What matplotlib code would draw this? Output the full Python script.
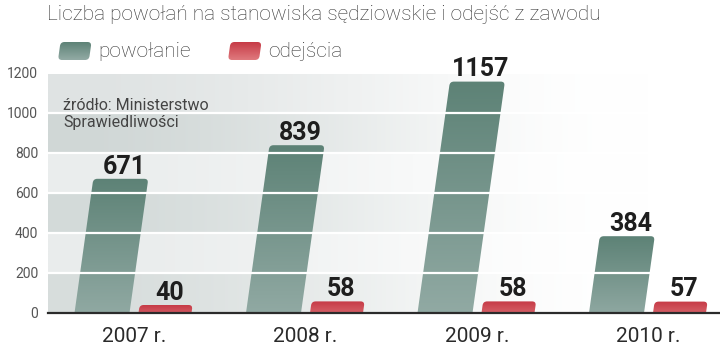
import numpy as np
import matplotlib
matplotlib.use("Agg")
import matplotlib.pyplot as plt
import matplotlib.transforms as mtransforms
from matplotlib.patches import FancyBboxPatch
from matplotlib.colors import LinearSegmentedColormap, to_rgb

# ---- data ----
years = ["2007 r.", "2008 r.", "2009 r.", "2010 r."]
appointments = [671, 839, 1157, 384]
departures = [40, 58, 58, 57]
series_names = ["powołanie", "odejścia"]
y_ticks = [0, 200, 400, 600, 800, 1000, 1200]
title = "Liczba powołań na stanowiska sędziowskie i odejść z zawodu"
source_lines = ["źródło: Ministerstwo", "Sprawiedliwości"]

# ---- style ----
W, H, DPI = 720, 347, 100
GREEN = ("#93aba5", "#5d8276")   # bottom, top
RED = ("#e07a7e", "#c63a46")
BAND_COLORS = ["#d7dddc", "#e9ecec", "#d3dad9", "#eaeded", "#d0d7d6", "#dfe3e3"]
TEXT_FONT = ["Roboto", "DejaVu Sans"]
NUM_FONT = ["Roboto", "DejaVu Sans"]

fig = plt.figure(figsize=(W / DPI, H / DPI), dpi=DPI)
fig.patch.set_facecolor("white")

# main axes: left at 48 px, baseline at 313 px, 1200 at 73 px
ax_left, ax_base, ax_top = 48, 313, 73
ax = fig.add_axes([ax_left / W, 1 - ax_base / H, 1 - ax_left / W, (ax_base - ax_top) / H])
cat_px = 171.5
x0_px = 134  # centre of the first category
xlim = ((ax_left - x0_px) / cat_px, (W - x0_px) / cat_px)
ylim = (0, 1200)
ax.set_xlim(*xlim)
ax.set_ylim(*ylim)

px_x = (xlim[1] - xlim[0]) / (W - ax_left)      # x units per pixel
px_y = (ylim[1] - ylim[0]) / (ax_base - ax_top)  # y units per pixel
slant = 0.14                                      # horizontal px per vertical px
shear = slant * px_x / px_y
aspect = px_y / px_x

# ---- striped background fading to white towards the right ----
nx, ny = 600, 1200
xpix = np.linspace(ax_left, W, nx)
t = np.clip((xpix - ax_left) / 600.0, 0, 1)
fade = 0.5 * (1 + np.cos(np.pi * t))
yv = np.arange(ny) + 0.5
band_idx = np.minimum((yv // 200).astype(int), len(BAND_COLORS) - 1)
band_rgb = np.array([to_rgb(c) for c in BAND_COLORS])[band_idx]
bg = 1 - (1 - band_rgb[:, None, :]) * fade[None, :, None]
ax.imshow(bg, extent=(xlim[0], xlim[1], 0, 1190), origin="lower",
          aspect="auto", zorder=0, interpolation="bilinear")


def slanted_bar(axis, x, y, w, h, y_origin, sh, radius, asp, colors, zorder):
    """Rounded, sheared box filled with a vertical gradient.

    colors[0] is used at y, colors[1] at y + h."""
    tr = (mtransforms.Affine2D().translate(0, -y_origin)
          .skew(np.arctan(sh), 0).translate(0, y_origin) + axis.transData)
    patch = FancyBboxPatch((x, y), w, h,
                           boxstyle=f"round,pad=0,rounding_size={radius}",
                           mutation_aspect=asp, transform=tr,
                           fc="none", ec="none", zorder=zorder)
    axis.add_patch(patch)
    dx = [sh * (y - y_origin), sh * (y + h - y_origin)]
    xl = x + min(dx) - abs(w)
    xr = x + w + max(dx) + abs(w)
    cmap = LinearSegmentedColormap.from_list("g", list(colors))
    grad = np.linspace(0, 1, 256)[:, None]
    im = axis.imshow(grad, cmap=cmap, extent=(xl, xr, y, y + h), origin="lower",
                     aspect="auto", zorder=zorder, interpolation="bilinear")
    im.set_clip_path(patch)
    return patch


bar_w_g, bar_w_r = 55 * px_x, 53 * px_x
off_g, off_r = -32 * px_x, 31 * px_x
radius = 4 * px_x
below = -40

for i, (a, d) in enumerate(zip(appointments, departures)):
    cg = i + off_g
    slanted_bar(ax, cg - bar_w_g / 2, below, bar_w_g, a - below, 0, shear,
                radius, aspect, GREEN, 2)
    cr = i + off_r
    slanted_bar(ax, cr - bar_w_r / 2, below, bar_w_r, d - below, 0, shear,
                radius, aspect, RED, 2)
    for c, v in ((cg, a), (cr, d)):
        ax.annotate(f"{v}", xy=(c + shear * v, v), xytext=(2.2, 3.8),
                    textcoords="offset points", ha="center", va="baseline",
                    fontsize=18, fontweight="bold",
                    family=NUM_FONT, color="#1e1e1e", zorder=6)
    ax.annotate(years[i], xy=(i, 0), xytext=(0, -21), textcoords="offset points",
                ha="center", va="baseline", fontsize=15, family=TEXT_FONT,
                color="#2a2a2a", annotation_clip=False)

ax.set_xlim(*xlim)
ax.set_ylim(*ylim)

# white grid lines drawn over the bars
for v in y_ticks[1:-1]:
    ax.axhline(v, color="white", lw=1.6, zorder=3)
ax.axhline(0, color="#2b2b2b", lw=1.6, zorder=5, clip_on=False)

for s in ax.spines.values():
    s.set_visible(False)
ax.set_xticks([])
ax.set_yticks(y_ticks)
ax.set_yticklabels([str(t) for t in y_ticks], family=TEXT_FONT)
ax.tick_params(axis="y", length=0, pad=7, labelsize=10, labelcolor="#555555")

# ---- overlay in pixel coordinates: title, legend, source ----
lax = fig.add_axes([0, 0, 1, 1])
lax.set_xlim(0, W)
lax.set_ylim(H, 0)
lax.axis("off")
lax.patch.set_visible(False)

lax.text(47, 20, title, fontsize=15, family=TEXT_FONT, fontweight="light",
         color="#333333", va="baseline", ha="left")

legend_items = [(58, series_names[0], GREEN), (228, series_names[1], RED)]
for lx, name, cols in legend_items:
    # pixel y grows downward: first colour at the top edge, second at the bottom
    slanted_bar(lax, lx, 42, 31, 18, 60, -slant, 4, 1,
                (cols[1], cols[0]), 2)
    lax.text(lx + 40, 57, name, fontsize=15, family=TEXT_FONT,
             fontweight="light", color="#333333", va="baseline", ha="left")
lax.set_xlim(0, W)
lax.set_ylim(H, 0)

lax.text(63, 110, source_lines[0], fontsize=11.5, family=TEXT_FONT,
         color="#444444", va="baseline", ha="left", zorder=10)
lax.text(63, 127, source_lines[1], fontsize=11.5, family=TEXT_FONT,
         color="#444444", va="baseline", ha="left", zorder=10)

fig.savefig("out.png", dpi=DPI)
